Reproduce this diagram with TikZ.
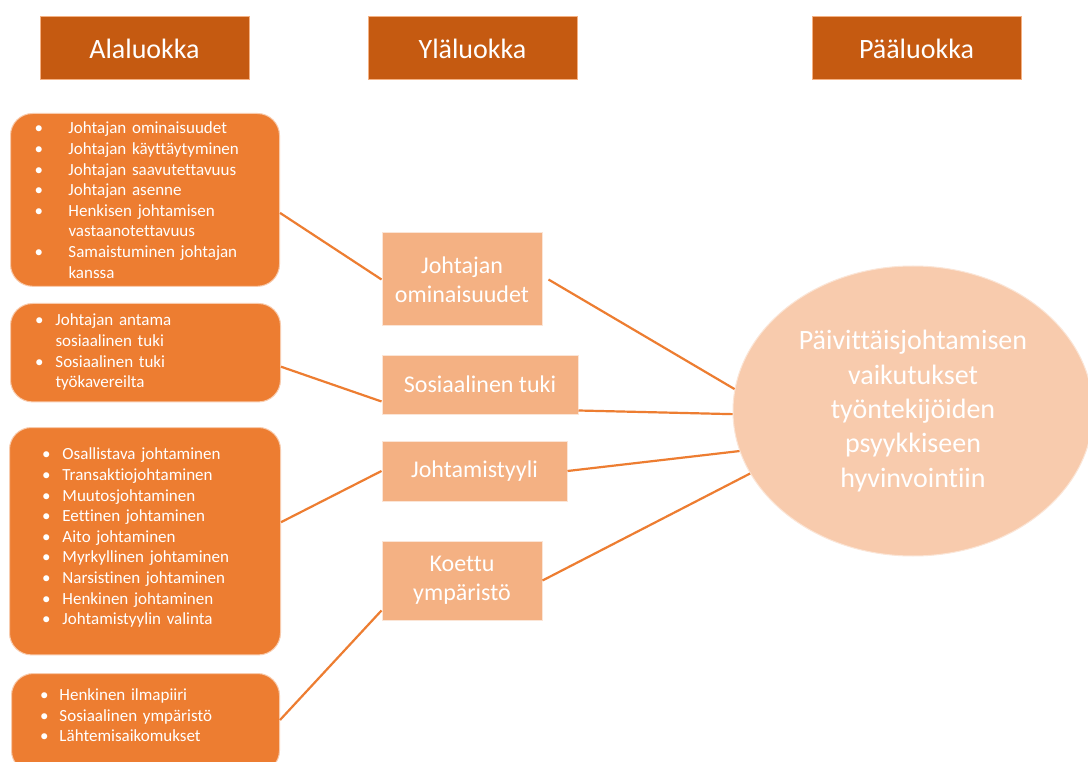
\documentclass[tikz,border=0pt]{standalone}
\usepackage{fontspec}
\setmainfont{Carlito}[Ligatures=NoCommon]
\usepackage{tikz}
\usetikzlibrary{shapes.geometric}
\definecolor{headfill}{HTML}{C55A11}
\definecolor{subfill}{HTML}{ED7D31}
\definecolor{upfill}{HTML}{F4B183}
\definecolor{mainfill}{HTML}{F8CBAD}
\definecolor{lightrim}{HTML}{FBE5D6}

\begin{document}
\begin{tikzpicture}[x=1pt, y=-1pt,
head/.style = {draw=upfill, line width=1pt, fill=headfill, text=white, minimum width=209pt, minimum height=63pt, font=\fontsize{28}{34}\selectfont},
sub/.style = {draw=mainfill, line width=1pt, fill=subfill, rounded corners=22pt, text=white, anchor=north west, align=left, font=\fontsize{17}{20.6}\selectfont},
upper/.style = {draw=lightrim, line width=1pt, fill=upfill, text=white, align=center, font=\fontsize{24}{29}\selectfont},
main/.style = {ellipse, draw=lightrim, line width=1pt, fill=mainfill, text=white, align=center, inner sep=0pt, minimum width=360pt, minimum height=290pt, font=\fontsize{28}{34.3}\selectfont},
link/.style = {draw=subfill, line width=2.2pt}]

\clip (0,0) rectangle (1088,762);
\fill[white] (0,0) rectangle (1088,762);

\node[head] (alaluokka head) at (144.5,48.5) {Alaluokka};
\node[head] (ylaluokka head) at (472.5,48.5) {Yläluokka};
\node[head] (paaluokka head) at (916.5,48.5) {Pääluokka};

\node[sub, text width=221pt, inner xsep=24pt, inner ysep=2pt] (traits list) at (10,113) {\begin{tabular}{@{}p{34pt}@{}l@{}}
\rule{0pt}{18.4pt}• & Johtajan ominaisuudet\\
• & Johtajan käyttäytyminen\\
• & Johtajan saavutettavuus\\
• & Johtajan asenne\\
• & Henkisen johtamisen\\
  & vastaanotettavuus\\
• & Samaistuminen johtajan\\
  & kanssa
\end{tabular}};
\node[sub, text width=221pt, inner xsep=24.5pt, inner ysep=8pt] (support list) at (10,303) {\begin{tabular}{@{}p{20.5pt}@{}l@{}}
• & Johtajan antama\\
  & sosiaalinen tuki\\
• & Sosiaalinen tuki\\
  & työkavereilta
\end{tabular}};
\node[sub, text width=206pt, inner xsep=32.5pt, inner ysep=18pt] (style list) at (9,427) {\begin{tabular}{@{}p{20.5pt}@{}l@{}}
• & Osallistava johtaminen\\
• & Transaktiojohtaminen\\
• & Muutosjohtaminen\\
• & Eettinen johtaminen\\
• & Aito johtaminen\\
• & Myrkyllinen johtaminen\\
• & Narsistinen johtaminen\\
• & Henkinen johtaminen\\
• & Johtamistyylin valinta\\[6pt]
\end{tabular}};
\node[sub, text width=211pt, inner xsep=28.5pt, inner ysep=12.6pt] (environment list) at (11,673) {\begin{tabular}{@{}p{19.5pt}@{}l@{}}
• & Henkinen ilmapiiri\\
• & Sosiaalinen ympäristö\\
• & Lähtemisaikomukset\\[12pt]
\end{tabular}};

\node[upper, minimum width=160pt, minimum height=93pt] (traits) at (462,279.5) {Johtajan\\ominaisuudet};
\node[upper, minimum width=196pt, minimum height=59pt] (support) at (480,384.5) {Sosiaalinen tuki};
\node[upper, minimum width=185pt, minimum height=60pt] (style) at (474.5,471) {Johtamistyyli};
\node[upper, minimum width=160pt, minimum height=79pt] (environment) at (462,580.5) {Koettu\\ympäristö};

\node[main] (effects) at (913,411) {Päivittäisjohtamisen\\vaikutukset\\työntekijöiden\\psyykkiseen\\hyvinvointiin};

\draw[link] ([yshift=-13pt]traits list.east) -- (traits.west);
\draw[link] ([yshift=-14pt]support list.east) -- ([yshift=-17pt]support.west);
\draw[link] ([yshift=19pt]style list.east) -- (style.west);
\draw[link] ([yshift=3pt]environment list.east) -- ([yshift=-30pt]environment.west);
\draw[link] ([xshift=6pt]traits.east) -- (effects.173);
\draw[link] ([yshift=-26pt]support.east) -- (effects.181);
\draw[link] (style.east) -- (effects.193);
\draw[link] (environment.east) -- (effects.201);

\end{tikzpicture}
\end{document}
